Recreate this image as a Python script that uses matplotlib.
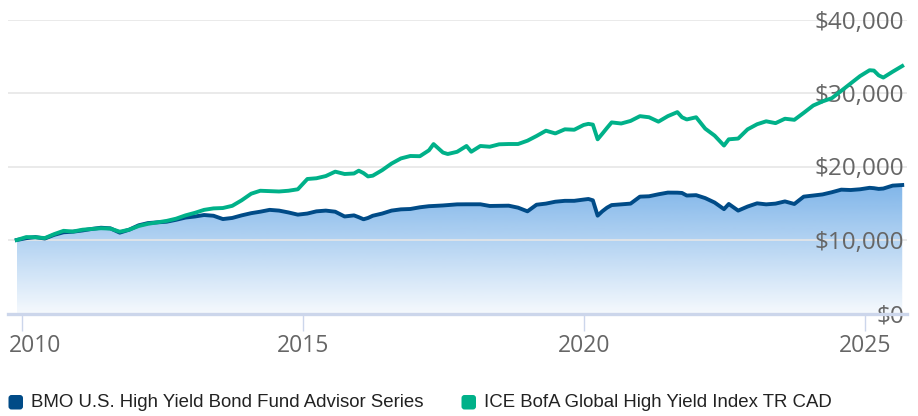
import numpy as np
import pandas as pd
import matplotlib
matplotlib.use('Agg')
import matplotlib.pyplot as plt
import matplotlib.dates as mdates
import matplotlib.transforms as mtransforms
from matplotlib.patches import PathPatch, FancyBboxPatch
from matplotlib.ticker import FuncFormatter

# growth of $10,000, month-end values
months = ['2009-11', '2010-01', '2010-03', '2010-05', '2010-07', '2010-09', '2010-11',
          '2011-01', '2011-03', '2011-05', '2011-07', '2011-09', '2011-11',
          '2012-01', '2012-03', '2012-05', '2012-07', '2012-09', '2012-11',
          '2013-01', '2013-03', '2013-05', '2013-07', '2013-09', '2013-11',
          '2014-01', '2014-03', '2014-05', '2014-07', '2014-09', '2014-11',
          '2015-01', '2015-03', '2015-05', '2015-07', '2015-09', '2015-11', '2015-12',
          '2016-01', '2016-02', '2016-03', '2016-05', '2016-07', '2016-09', '2016-11',
          '2017-01', '2017-03', '2017-04', '2017-06', '2017-07', '2017-09', '2017-11', '2017-12',
          '2018-02', '2018-04', '2018-06', '2018-08', '2018-10', '2018-12',
          '2019-02', '2019-04', '2019-06', '2019-08', '2019-10', '2019-12',
          '2020-01', '2020-02', '2020-03', '2020-04', '2020-05', '2020-06', '2020-08', '2020-10', '2020-12',
          '2021-02', '2021-04', '2021-06', '2021-08', '2021-09', '2021-10', '2021-12',
          '2022-02', '2022-04', '2022-06', '2022-07', '2022-09', '2022-11',
          '2023-01', '2023-03', '2023-05', '2023-07', '2023-09', '2023-11',
          '2024-01', '2024-03', '2024-05', '2024-07', '2024-09', '2024-11',
          '2025-01', '2025-02', '2025-03', '2025-04', '2025-06', '2025-08']

fund = [10000, 10250, 10400, 10200, 10700, 11050, 11130,
        11300, 11500, 11670, 11590, 11000, 11400,
        12000, 12300, 12400, 12490, 12750, 13050,
        13200, 13400, 13300, 12850, 13000, 13350,
        13650, 13850, 14100, 14000, 13750, 13450,
        13600, 13900, 14000, 13850, 13200, 13350, 13100,
        12820, 13000, 13300, 13600, 14000, 14170, 14220,
        14450, 14600, 14630, 14700, 14750, 14850, 14860, 14860,
        14860, 14630, 14650, 14670, 14400, 13900,
        14800, 14950, 15210, 15330, 15330, 15500,
        15580, 15400, 13310, 13900, 14400, 14750, 14850, 14950, 15900,
        15950, 16220, 16450, 16440, 16400, 16050, 16100,
        15700, 15100, 14200, 14900, 14000, 14550,
        14990, 14850, 14950, 15250, 14900, 15900,
        16050, 16200, 16500, 16850, 16800, 16900,
        17100, 17050, 16950, 17000, 17400, 17480]

index = [10000, 10400, 10370, 10260, 10800, 11250, 11150,
         11400, 11500, 11600, 11550, 11130, 11400,
         11900, 12200, 12400, 12600, 12900, 13350,
         13700, 14100, 14300, 14350, 14650, 15400,
         16300, 16700, 16650, 16600, 16700, 16900,
         18300, 18400, 18700, 19300, 18980, 19050, 19430,
         19100, 18650, 18750, 19500, 20400, 21100, 21430,
         21400, 22200, 23050, 21900, 21700, 22000, 22790, 22010,
         22790, 22690, 23020, 23060, 23060, 23510,
         24150, 24870, 24500, 25060, 25000, 25650,
         25800, 25700, 23700, 24450, 25250, 26000, 25850, 26200, 26850,
         26700, 26100, 26850, 27400, 26700, 26400, 26700,
         25150, 24200, 22850, 23700, 23800, 25050,
         25750, 26150, 25900, 26500, 26350, 27300,
         28300, 28850, 29300, 30300, 31300, 32300,
         33100, 33050, 32400, 32100, 32900, 33670]

fund_name = 'BMO U.S. High Yield Bond Fund Advisor Series'
index_name = 'ICE BofA Global High Yield Index TR CAD'
y_ticks = [0, 10000, 20000, 30000, 40000]

FUND_COLOR = '#004b87'
INDEX_COLOR = '#00b189'
LABEL_COLOR = '#666666'

dates = pd.to_datetime(months) + pd.offsets.MonthEnd(0)

fig = plt.figure(figsize=(9.18, 4.16), dpi=100)
ax = fig.add_axes([8 / 918, 1 - 313.5 / 416, 899 / 918, 294 / 416])

# gradient area under the fund line
area = ax.fill_between(dates, fund, 0, color='none', lw=0)
clip = PathPatch(area.get_paths()[0], transform=ax.transData, facecolor='none', edgecolor='none')
grad = np.zeros((256, 1, 4))
grad[..., 0] = 0 / 255
grad[..., 1] = 108 / 255
grad[..., 2] = 212 / 255
grad[:, 0, 3] = np.linspace(0.5, 0.04, 256)
x0, x1 = mdates.date2num(dates[0]), mdates.date2num(dates[-1])
im = ax.imshow(grad, extent=[x0, x1, 0, max(fund)], aspect='auto', origin='upper', zorder=1)
im.set_clip_path(clip)

ax.plot(dates, fund, color=FUND_COLOR, lw=2.8, zorder=3, solid_joinstyle='round')
ax.plot(dates, index, color=INDEX_COLOR, lw=2.8, zorder=4, solid_joinstyle='round')

ax.set_xlim(pd.Timestamp('2009-10-04'), pd.Timestamp('2025-10-01'))
ax.set_ylim(0, 40000)

for s in ax.spines.values():
    s.set_visible(False)

ax.set_yticks(y_ticks)
ax.grid(axis='y', color='#e6e6e6', lw=1.2, zorder=0)
ax.axhline(0, color='#ccd6eb', lw=2.4, zorder=2, clip_on=False)
ax.yaxis.tick_right()
ax.yaxis.set_major_formatter(FuncFormatter(lambda v, p: '${:,.0f}'.format(v)))
ax.tick_params(axis='y', length=0, pad=-2, labelsize=17.5, labelcolor=LABEL_COLOR)
for lbl in ax.get_yticklabels():
    lbl.set_horizontalalignment('right')
    lbl.set_family('Open Sans')

ax.xaxis.set_major_locator(mdates.YearLocator(5))
# 2010 label is pushed inward so it does not get cut at the edge
ax.xaxis.set_major_formatter(FuncFormatter(
    lambda v, p: '' if mdates.num2date(v).year == 2010 else mdates.num2date(v).strftime('%Y')))
ax.tick_params(axis='x', length=12.5, width=1, color='#ccd6eb', pad=2.5,
               labelsize=16.5, labelcolor=LABEL_COLOR)
for lbl in ax.get_xticklabels():
    lbl.set_family('Open Sans')

first_tr = mtransforms.offset_copy(ax.get_xaxis_transform(), fig=fig, x=-12.7, y=-20.9, units='dots')
ax.text(pd.Timestamp('2010-01-01'), 0, '2010', transform=first_tr, ha='left', va='top',
        fontsize=16.5, color=LABEL_COLOR, family='Open Sans')

# legend: rounded squares + labels
for xpx, name, col in [(8.5, fund_name, FUND_COLOR), (461.5, index_name, INDEX_COLOR)]:
    box = FancyBboxPatch((xpx, 6.5), 14.5, 14.5, boxstyle='round,pad=0,rounding_size=3',
                         transform=mtransforms.IdentityTransform(), facecolor=col, edgecolor='none')
    fig.patches.append(box)
    fig.text((xpx + 22) / 918, 13.5 / 416, name, fontsize=13.4, color='#222222',
             family='Liberation Sans', va='center', ha='left')

fig.savefig('out.png', dpi=100)
